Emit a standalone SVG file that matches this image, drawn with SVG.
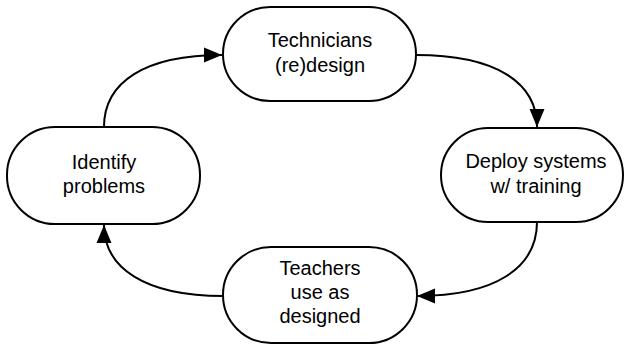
<svg xmlns="http://www.w3.org/2000/svg" width="626" height="348" viewBox="0 0 626 348">
<style>
.node rect{fill:#fff;stroke:#000;stroke-width:2}
.node text{font-family:"Liberation Sans",Arial,sans-serif;font-size:20px;fill:#000;text-anchor:middle}
.conn path{fill:none;stroke:#000;stroke-width:2}
</style>
<defs>
<marker id="arr" markerUnits="userSpaceOnUse" markerWidth="20" markerHeight="16" refX="18" refY="8" orient="auto">
<path d="M0,0.5 L18,8 L0,15.5 Z" fill="#000"/>
</marker>
</defs>
<rect width="626" height="348" fill="#fff"/>
<g class="conn" id="connectors">
<path d="M416,55 C495,55 537,82 537,127" marker-end="url(#arr)"/>
<path d="M537,222 C537,268 495,296 417,296" marker-end="url(#arr)"/>
<path d="M223,296 C145,296 104,268 104,225" marker-end="url(#arr)"/>
<path d="M104,127 C104,82 145,55 222,55" marker-end="url(#arr)"/>
</g>
<g class="node" id="n-technicians">
<rect x="223" y="7" width="193" height="94" rx="47"/>
<text x="320" y="47">Technicians</text>
<text x="320" y="72">(re)design</text>
</g>
<g class="node" id="n-deploy">
<rect x="441" y="128" width="182" height="94" rx="47"/>
<text x="536" y="168">Deploy systems</text>
<text x="536" y="193">w/ training</text>
</g>
<g class="node" id="n-teachers">
<rect x="223" y="247" width="194" height="96" rx="48"/>
<text x="320" y="275">Teachers</text>
<text x="320" y="299">use as</text>
<text x="320" y="323">designed</text>
</g>
<g class="node" id="n-identify">
<rect x="7" y="127" width="193" height="97" rx="48"/>
<text x="104" y="169">Identify</text>
<text x="104" y="193">problems</text>
</g>
</svg>
